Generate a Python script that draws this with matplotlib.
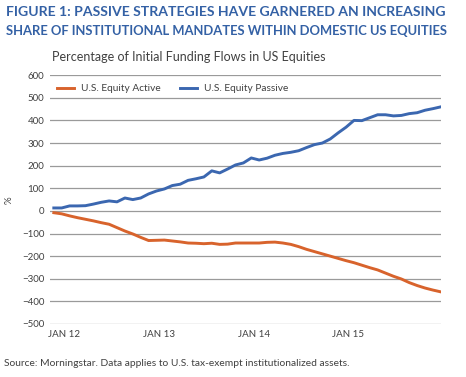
"""
    Passive vs active funding flows chart
"""

import matplotlib
matplotlib.use('AGG')
import matplotlib.pyplot as plt

plt.rcParams['font.family'] = ['Lato', 'DejaVu Sans']

# monthly cumulative flows, %
passive = [13, 13, 22, 22, 23, 30, 38, 44, 40, 57,
           50, 57, 75, 88, 97, 112, 118, 135, 142, 150,
           177, 168, 185, 203, 212, 234, 225, 233, 246, 254,
           259, 266, 280, 293, 300, 318, 345, 370, 400, 399,
           412, 425, 425, 420, 422, 430, 434, 445, 452, 460]
active = [-8, -13, -22, -30, -37, -44, -52, -59, -74, -89,
          -102, -117, -131, -130, -129, -133, -137, -142, -143, -145,
          -143, -148, -147, -142, -142, -142, -142, -139, -138, -142,
          -148, -158, -170, -180, -190, -200, -210, -220, -229, -240,
          -251, -261, -275, -289, -301, -317, -330, -341, -350, -358]
tick_labels = ['JAN 12', 'JAN 13', 'JAN 14', 'JAN 15']
y_ticks = list(range(-500, 601, 100))

ORANGE = '#d8632c'
BLUE = '#3b67b0'
TITLE = '#3461a5'
TEXT = '#404040'


def main():
    fig = plt.figure(figsize=(4.66, 3.77), dpi=100)
    ax = fig.add_axes([0.107, 0.1406, 0.839, 0.660])

    months = range(len(passive))
    ax.plot(months, active, color=ORANGE, lw=2.1, label='U.S. Equity Active')
    ax.plot(months, passive, color=BLUE, lw=2.1, label='U.S. Equity Passive')

    ax.set_xlim(-0.5, 49)
    ax.set_ylim(-500, 600)
    ax.set_yticks(y_ticks)
    ax.set_xticks([1.3 + 12 * i for i in range(len(tick_labels))])
    ax.set_xticklabels(tick_labels)
    ax.tick_params(length=0, labelsize=7, colors=TEXT, pad=4)
    ax.grid(axis='y', color='#9a9a9a', lw=0.9)
    ax.set_axisbelow(True)
    for s in ax.spines.values():
        s.set_visible(False)

    ax.legend(loc='upper left', bbox_to_anchor=(-0.005, 1.0), ncol=2,
              frameon=False, fontsize=7.3, labelcolor=TEXT,
              handlelength=1.7, columnspacing=1.9, handletextpad=0.65)

    fig.text(0.012, 0.968, 'FIGURE 1: PASSIVE STRATEGIES HAVE GARNERED AN INCREASING',
             fontsize=10.1, fontweight='bold', color=TITLE, va='center')
    fig.text(0.012, 0.918, 'SHARE OF INSTITUTIONAL MANDATES WITHIN DOMESTIC US EQUITIES',
             fontsize=9.4, fontweight='bold', color=TITLE, va='center')
    fig.text(0.112, 0.848, 'Percentage of Initial Funding Flows in US Equities',
             fontsize=9, color=TEXT, va='center')
    fig.text(0.02, 0.47, '%', fontsize=7, color=TEXT, rotation=90,
             ha='center', va='center')
    fig.text(0.008, 0.037,
             'Source: Morningstar. Data applies to U.S. tax-exempt institutionalized assets.',
             fontsize=7.4, color=TEXT, va='center')

    fig.savefig('out.png', dpi=100)


if __name__ == '__main__':
    main()
